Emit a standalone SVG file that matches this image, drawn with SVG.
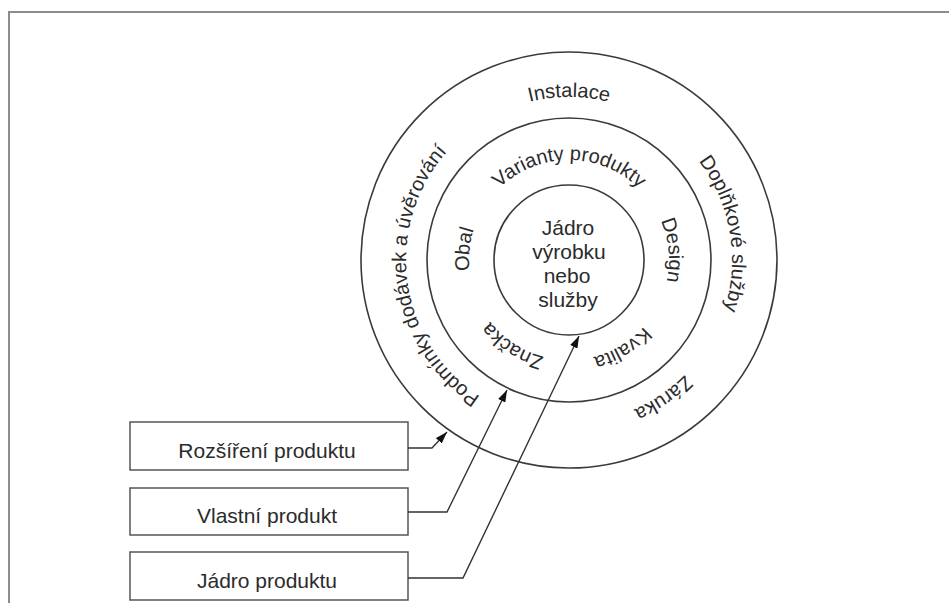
<svg xmlns="http://www.w3.org/2000/svg" width="949" height="603" viewBox="0 0 949 603">
<style>
.frame{stroke:#8c8c8c;stroke-width:2;fill:none}
.ring{fill:none;stroke:#3a3a3a;stroke-width:1.6}
.box{fill:#fff;stroke:#555;stroke-width:1.5}
.t{font-family:"Liberation Sans",Arial,sans-serif;fill:#2b2b2b}
.lbl{font-size:21px;text-anchor:middle}
.rt{font-size:20px}
.conn{fill:none;stroke:#333;stroke-width:1.4;marker-end:url(#arr)}
</style>
<defs>
<marker id="arr" viewBox="0 0 12 8" refX="12" refY="4" markerWidth="12" markerHeight="8" markerUnits="userSpaceOnUse" orient="auto">
<path d="M0,0 L12,4 L0,8 z" fill="#111"/>
</marker>
<path id="pOuter" d="M569,423 A163,163 0 1 1 569,97 A163,163 0 1 1 569,423"/>
<path id="pMid" d="M569,360 A100,100 0 1 1 569,160 A100,100 0 1 1 569,360"/>
</defs>
<rect width="949" height="603" fill="#fff"/>
<path class="frame" d="M9,603 L9,12 L949,12"/>

<g id="outer-ring">
<circle class="ring" cx="569" cy="260" r="208"/>
<text class="t rt"><textPath href="#pOuter" startOffset="512" text-anchor="middle">Instalace</textPath></text>
<text class="t rt"><textPath href="#pOuter" startOffset="740" text-anchor="middle">Doplňkové služby</textPath></text>
<text class="t rt"><textPath href="#pOuter" startOffset="926" text-anchor="middle">Záruka</textPath></text>
<text class="t rt"><textPath href="#pOuter" startOffset="234" text-anchor="middle">Podmínky dodávek a úvěrování</textPath></text>
</g>

<g id="middle-ring">
<circle class="ring" cx="569" cy="260" r="142"/>
<text class="t rt"><textPath href="#pMid" startOffset="314" text-anchor="middle">Varianty produkty</textPath></text>
<text class="t rt"><textPath href="#pMid" startOffset="461" text-anchor="middle">Design</textPath></text>
<text class="t rt"><textPath href="#pMid" startOffset="573" text-anchor="middle">Kvalita</textPath></text>
<text class="t rt"><textPath href="#pMid" startOffset="58" text-anchor="middle">Značka</textPath></text>
<text class="t rt"><textPath href="#pMid" startOffset="167" text-anchor="middle">Obal</textPath></text>
</g>

<g id="core">
<circle class="ring" cx="569" cy="260" r="75"/>
<text class="t lbl" x="568" y="235">Jádro</text>
<text class="t lbl" x="569" y="259">výrobku</text>
<text class="t lbl" x="567" y="283">nebo</text>
<text class="t lbl" x="568" y="307">služby</text>
</g>

<g id="box-rozsireni">
<rect class="box" x="130" y="422" width="278" height="48"/>
<text class="t lbl" x="267" y="458">Rozšíření produktu</text>
</g>
<g id="box-vlastni">
<rect class="box" x="130" y="488" width="278" height="47"/>
<text class="t lbl" x="267" y="523">Vlastní produkt</text>
</g>
<g id="box-jadro">
<rect class="box" x="130" y="552" width="278" height="48"/>
<text class="t lbl" x="267" y="588">Jádro produktu</text>
</g>

<g id="connectors">
<polyline class="conn" points="408,448 432,448 447,432"/>
<polyline class="conn" points="408,512 447,512 507,390"/>
<polyline class="conn" points="408,578 463,578 579,336"/>
</g>
</svg>
